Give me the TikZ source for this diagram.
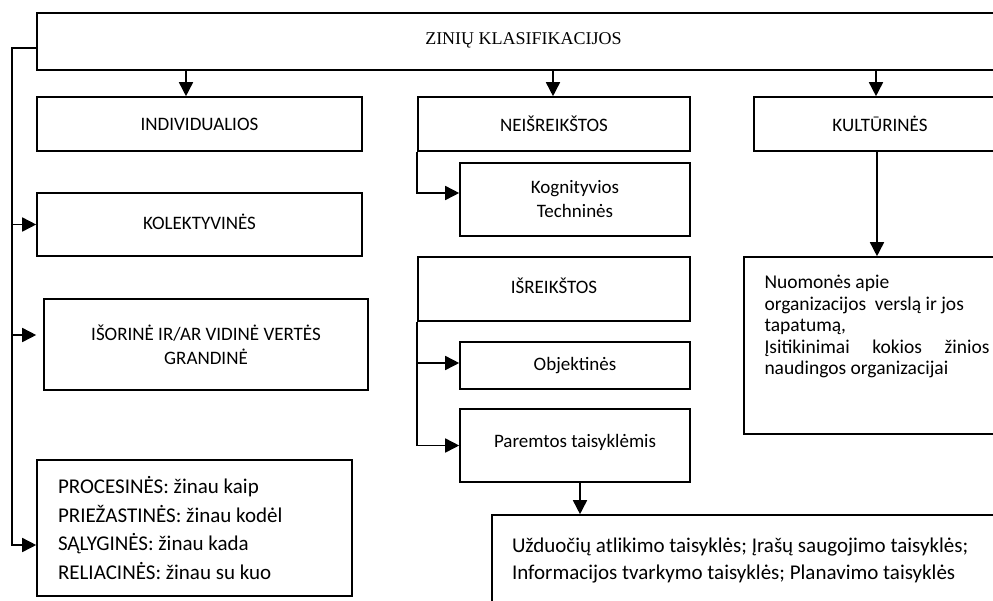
\documentclass[tikz,border=0pt]{standalone}
\usepackage{fontspec}
\setmainfont{Carlito}
\newfontfamily\titlefont{Liberation Serif}
\usetikzlibrary{arrows.meta}

\tikzset{
  box/.style={draw=black, line width=1.6pt, rectangle, inner sep=0pt, align=center,
              font=\fontsize{19}{24}\selectfont},
  link/.style={draw=black, line width=1.6pt},
  arr/.style={link, -{Triangle[length=14pt, width=14pt]}},
}

\begin{document}
\begin{tikzpicture}[x=1pt, y=-1pt]
  \useasboundingbox (0,0) rectangle (993,600);
  \clip (0,0) rectangle (993,600);

  % root box (runs past the right edge)
  \node[box, minimum width=973pt, minimum height=57pt] (top) at (523.5,41.5)
    {\raisebox{5pt}{\titlefont\fontsize{18}{20}\selectfont ZINIŲ KLASIFIKACIJOS}};

  % first level
  \node[box, minimum width=325pt, minimum height=54pt] (indiv) at (199.5,124) {INDIVIDUALIOS};
  \node[box, minimum width=272pt, minimum height=54pt] (neis)  at (554,124)   {NEIŠREIKŠTOS};
  \node[box, minimum width=252pt, minimum height=54pt] (kult)  at (880,124)   {KULTŪRINĖS};

  % left column
  \node[box, minimum width=325pt, minimum height=63pt] (kolek) at (199.5,224.5)
    {\raisebox{6pt}{KOLEKTYVINĖS}};
  \node[box, minimum width=324pt, minimum height=91pt] (isor) at (206,344.5)
    {IŠORINĖ IR/AR VIDINĖ VERTĖS\\GRANDINĖ};
  \node[box, minimum width=315pt, minimum height=136pt] (proc) at (194.5,528)
    {\parbox[c]{273pt}{\fontsize{21}{28.5}\selectfont\raggedright
      PROCESINĖS: žinau kaip\\
      PRIEŽASTINĖS: žinau kodėl\\
      SĄLYGINĖS: žinau kada\\
      RELIACINĖS: žinau su kuo}};

  % middle column
  \node[box, minimum width=230pt, minimum height=73pt] (kog) at (575,199.5)
    {Kognityvios\\Techninės};
  \node[box, minimum width=272pt, minimum height=64pt] (isreik) at (554,289)
    {\raisebox{7pt}{IŠREIKŠTOS}};
  \node[box, minimum width=230pt, minimum height=47pt] (obj) at (575,365.5) {Objektinės};
  \node[box, minimum width=230pt, minimum height=73pt] (par) at (575,445.5)
    {\raisebox{10pt}{Paremtos taisyklėmis}};
  \node[box, minimum width=518pt, minimum height=105pt] (uzd) at (751,567.5)
    {\parbox[c][59pt][t]{478pt}{\fontsize{21}{27}\selectfont\raggedright
      Užduočių atlikimo taisyklės; Įrašų saugojimo taisyklės;\\
      Informacijos tvarkymo taisyklės; Planavimo taisyklės}};

  % right column
  \node[box, minimum width=266pt, minimum height=177pt] (nuom) at (877,345.5)
    {\parbox[c][140pt][t]{225pt}{\fontsize{19.5}{21.5}\selectfont\raggedright
      Nuomonės apie\\
      organizacijos\ \ verslą ir jos\\
      tapatumą,\\
      \makebox[225pt][s]{Įsitikinimai kokios žinios}\\
      naudingos organizacijai}};

  % arrow tips that sit off the box centres
  \coordinate (indivIn) at ([xshift=-13.5pt]indiv.north);
  \coordinate (neisIn)  at ([xshift=-1pt]neis.north);
  \coordinate (kultIn)  at ([xshift=-4pt]kult.north);
  \coordinate (parOut)  at ([xshift=5pt]par.south);
  \coordinate (isorTip) at ([xshift=-7pt,yshift=9.5pt]isor.west);
  \coordinate (procIn)  at ([yshift=-17pt]proc.west);
  \coordinate (rootOut) at ([yshift=-6.5pt]top.west);
  \coordinate (kogIn)   at ([yshift=6.5pt]kog.west);
  \coordinate (objIn)   at ([yshift=2.5pt]obj.west);

  % branches from the root
  \draw[arr] (top.south -| indivIn) -- (indivIn);
  \draw[arr] (top.south -| neisIn) -- (neisIn);
  \draw[arr] (top.south -| kultIn) -- (kultIn);

  % spine on the left
  \coordinate (spine) at (12,300);
  \draw[arr] (rootOut) -| (spine) |- (procIn);
  \draw[arr] (spine |- kolek.west) -- (kolek.west);
  \draw[arr] (spine |- isorTip) -- (isorTip);

  % tacit and explicit knowledge
  \draw[arr] (neis.south west) |- (kogIn);
  \draw[arr] (isreik.south west) |- (objIn);
  \draw[arr] (isreik.south west) |- (par.west);
  \draw[arr] (parOut) -- (parOut |- uzd.north);

  % cultural knowledge
  \draw[arr] (nuom.north |- kult.south) -- (nuom.north);
\end{tikzpicture}
\end{document}
